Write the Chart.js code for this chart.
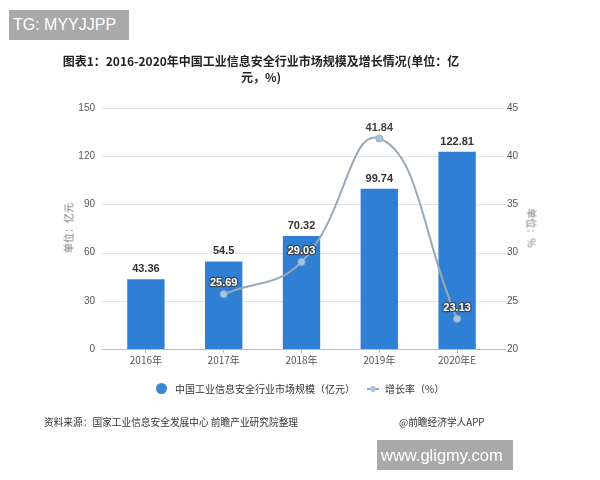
<!DOCTYPE html>
<html><head><meta charset="utf-8">
<script src="https://cdn.jsdelivr.net/npm/chart.js@4/dist/chart.umd.min.js"></script>
<style>
html,body{margin:0;padding:0;background:#fff;}
#wrap{position:relative;width:600px;height:480px;overflow:hidden;font-family:"Noto Sans CJK SC","Noto Sans",sans-serif;}
canvas{position:absolute;left:0;top:0;}
.abs{position:absolute;white-space:nowrap;}
#tg{left:9px;top:10px;width:120px;height:30px;background:#a9a9a9;color:#fff;font:16px "Liberation Sans",Arial,sans-serif;line-height:30px;padding-left:4px;box-sizing:border-box;}
#www{left:377px;top:440px;width:136px;height:30px;background:#a9a9a9;color:#fff;font:16.5px "Liberation Sans",Arial,sans-serif;line-height:30px;padding-left:4px;box-sizing:border-box;}
#title{left:56px;top:53px;width:410px;text-align:center;font-weight:bold;font-size:12px;line-height:16px;color:#222;}
#src{left:44px;top:415px;font-size:9.7px;color:#333;}
#app{left:399px;top:415px;font-size:9.7px;color:#333;}
#yl{left:68px;top:228px;transform:translate(-50%,-50%) rotate(-90deg);font-size:10px;color:#777;}
#yr{left:532px;top:228px;transform:translate(-50%,-50%) rotate(90deg);font-size:10px;color:#777;}
#leg{left:0;top:380px;width:600px;font-size:10px;color:#333;}
.dot{position:absolute;left:156px;top:3px;width:11px;height:11px;border-radius:50%;background:#3a86cf;}
.l1{position:absolute;left:175px;top:0;line-height:17px;}
.lm{position:absolute;left:367px;top:8px;width:12px;height:2px;background:#9aaabb;}
.lp{position:absolute;left:370px;top:6px;width:6px;height:6px;border-radius:50%;background:#a9c4de;}
.l2{position:absolute;left:385px;top:0;line-height:17px;}
</style></head>
<body><div id="wrap">
<canvas id="c" width="600" height="480"></canvas>
<div id="tg" class="abs">TG: MYYJJPP</div>
<div id="title" class="abs">图表1：2016-2020年中国工业信息安全行业市场规模及增长情况(单位：亿<br>元，%)</div>
<div id="yl" class="abs">单位：亿元</div>
<div id="yr" class="abs">单位：%</div>
<div id="leg" class="abs"><span class="dot"></span><span class="l1">中国工业信息安全行业市场规模（亿元）</span><span class="lm"></span><span class="lp"></span><span class="l2">增长率（%）</span></div>
<div id="src" class="abs">资料来源：国家工业信息安全发展中心 前瞻产业研究院整理</div>
<div id="app" class="abs">@前瞻经济学人APP</div>
<div id="www" class="abs">www.gligmy.com</div>
</div>
<script>
const categories = ["2016年","2017年","2018年","2019年","2020年E"];
const marketSize = [43.36, 54.5, 70.32, 99.74, 122.81];
const growthRate = [null, 25.69, 29.03, 41.84, 23.13];
const leftTicks = [0, 30, 60, 90, 120, 150];
const rightTicks = [20, 25, 30, 35, 40, 45];

const gridPlugin = {
  id: 'grid',
  beforeDatasetsDraw(chart) {
    const ctx = chart.ctx, y = chart.scales.y;
    ctx.save();
    leftTicks.forEach(v => {
      const py = Math.round(y.getPixelForValue(v)) + 0.5;
      ctx.strokeStyle = v === 0 ? '#bdbdbd' : '#e3e3e3';
      ctx.lineWidth = 1;
      ctx.beginPath(); ctx.moveTo(102, py); ctx.lineTo(506, py); ctx.stroke();
    });
    ctx.restore();
  }
};
const labelPlugin = {
  id: 'labels',
  afterDatasetsDraw(chart) {
    const ctx = chart.ctx;
    ctx.save();
    ctx.textAlign = 'center';
    ctx.textBaseline = 'middle';
    ctx.font = 'bold 11px "Liberation Sans", Arial, sans-serif';
    chart.getDatasetMeta(0).data.forEach((el, i) => {
      ctx.fillStyle = '#333';
      ctx.fillText(String(marketSize[i]), el.x, el.y - 10);
    });
    chart.getDatasetMeta(1).data.forEach((el, i) => {
      if (growthRate[i] == null) return;
      const t = growthRate[i].toFixed(2);
      if (i === 3) {
        ctx.fillStyle = '#444';
        ctx.fillText(t, el.x, el.y - 10);
      } else {
        ctx.lineWidth = 2.5; ctx.strokeStyle = '#3a4a5a'; ctx.lineJoin = 'round';
        ctx.strokeText(t, el.x, el.y - 11);
        ctx.fillStyle = '#fff';
        ctx.fillText(t, el.x, el.y - 11);
      }
    });
    ctx.restore();
  }
};

new Chart(document.getElementById('c'), {
  data: {
    labels: categories,
    datasets: [
      { type: 'bar', data: marketSize, yAxisID: 'y', backgroundColor: '#2f80d5',
        barPercentage: 0.48, categoryPercentage: 1, order: 1 },
      { type: 'line', data: growthRate, yAxisID: 'y1', borderColor: '#9aa8b6', borderWidth: 2,
        tension: 0.45, pointRadius: 3.5, pointBackgroundColor: '#a9c4de', pointBorderColor: '#8fb0d0',
        pointBorderWidth: 1, spanGaps: true, order: 0 }
    ]
  },
  options: {
    responsive: false, animation: false,
    layout: { padding: { top: 108, left: 0, right: 0, bottom: 0 } },
    plugins: { legend: { display: false }, tooltip: { enabled: false }, title: { display: false } },
    scales: {
      x: {
        grid: { display: true, drawOnChartArea: false, drawTicks: true, tickLength: 4, offset: false, color: '#bdbdbd' },
        border: { display: false },
        ticks: { color: '#555', font: { size: 10, family: '"Noto Sans CJK SC", sans-serif' }, padding: 1, maxRotation: 0 },
        afterFit(s) { s.height = 131; }
      },
      y: {
        position: 'left', min: 0, max: 150,
        afterBuildTicks(s) { s.ticks = leftTicks.map(v => ({ value: v })); },
        grid: { display: false, drawTicks: false },
        border: { display: false },
        ticks: { color: '#555', font: { size: 10, family: '"Liberation Sans", Arial, sans-serif' }, padding: 12 },
        afterFit(s) { s.width = 107; }
      },
      y1: {
        position: 'right', min: 20, max: 45,
        afterBuildTicks(s) { s.ticks = rightTicks.map(v => ({ value: v })); },
        grid: { display: false, drawTicks: false },
        border: { display: false },
        ticks: { color: '#555', font: { size: 10, family: '"Liberation Sans", Arial, sans-serif' }, padding: 11 },
        afterFit(s) { s.width = 104; }
      }
    }
  },
  plugins: [gridPlugin, labelPlugin]
});
</script>
</body></html>
